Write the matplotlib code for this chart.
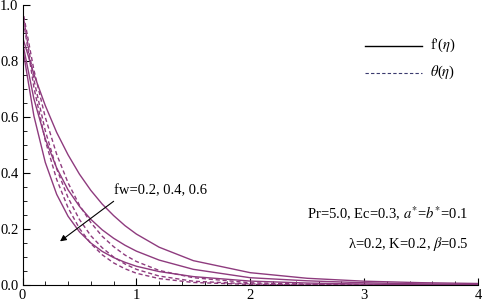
import numpy as np
import matplotlib
matplotlib.use("Agg")
import matplotlib.pyplot as plt
from matplotlib.ticker import MultipleLocator

plt.rcParams['font.family'] = ['Liberation Serif', 'DejaVu Serif']
plt.rcParams['mathtext.fontset'] = 'stix'

# eta positions
eta = [0, 0.1, 0.2, 0.3, 0.4, 0.5, 0.6, 0.7, 0.8, 0.9, 1.0, 1.2, 1.5, 2.0, 2.5, 3.0, 3.5, 4.0]

# f'(eta) for fw = 0.2, 0.4, 0.6
fp_02 = [0.886, 0.753, 0.641, 0.545, 0.465, 0.396, 0.338, 0.289, 0.248, 0.212, 0.182, 0.135, 0.087, 0.044, 0.024, 0.0136, 0.0083, 0.0054]
fp_04 = [0.868, 0.665, 0.522, 0.418, 0.340, 0.281, 0.2345, 0.197, 0.167, 0.142, 0.121, 0.089, 0.056, 0.026, 0.015, 0.008, 0.004, 0.002]
fp_06 = [0.85, 0.604, 0.438, 0.324, 0.2455, 0.190, 0.150, 0.120, 0.098, 0.081, 0.067, 0.048, 0.030, 0.014, 0.007, 0.0033, 0.0016, 0.0008]

# theta(eta) for fw = 0.2, 0.4, 0.6
th_02 = [0.985, 0.768, 0.599, 0.467, 0.365, 0.285, 0.223, 0.174, 0.137, 0.107, 0.084, 0.052, 0.026, 0.008, 0.003, 0.001, 0.0, 0.0]
th_04 = [0.975, 0.733, 0.551, 0.415, 0.312, 0.234, 0.176, 0.133, 0.100, 0.075, 0.056, 0.032, 0.0135, 0.004, 0.001, 0.0, 0.0, 0.0]
th_06 = [0.965, 0.706, 0.516, 0.377, 0.276, 0.202, 0.148, 0.108, 0.079, 0.058, 0.042, 0.023, 0.009, 0.002, 0.0, 0.0, 0.0, 0.0]

purple = '#8e3b7e'

fig = plt.figure(figsize=(4.84, 3.03), dpi=100)
ax = fig.add_axes([0.0465, 0.0594, 0.941, 0.924])

for f in [fp_02, fp_04, fp_06]:
    ax.plot(eta, f, color=purple, lw=1.0)
for t in [th_02, th_04, th_06]:
    ax.plot(eta, t, color=purple, lw=1.0, dashes=(3, 2))

ax.set_xlim(0, 4)
ax.set_ylim(0, 1.0)
ax.spines['top'].set_visible(False)
ax.spines['right'].set_visible(False)
ax.xaxis.set_major_locator(MultipleLocator(1))
ax.xaxis.set_minor_locator(MultipleLocator(0.2))
ax.yaxis.set_major_locator(MultipleLocator(0.2))
ax.yaxis.set_minor_locator(MultipleLocator(0.05))
ax.tick_params(which='both', direction='in', labelsize=10.5, pad=3)
ax.tick_params(which='major', length=5)
ax.tick_params(which='minor', length=3)
ax.set_xticks([0, 1, 2, 3, 4])
ax.set_xticklabels(['0', '1', '2', '3', '4'])

# legend drawn by hand like the original
ax.plot([3.01, 3.51], [0.855, 0.855], color='black', lw=1.0)
ax.text(3.58, 0.855, "f'($\\eta$)", fontsize=10.5, va='center')
ax.plot([3.01, 3.51], [0.758, 0.758], color='#3a3a6e', lw=0.8, dashes=(3, 2))
ax.text(3.58, 0.758, "$\\theta$($\\eta$)", fontsize=10.5, va='center')

ax.annotate('', xy=(0.31, 0.15), xytext=(0.82, 0.305),
            arrowprops=dict(arrowstyle='-|>', color='black', lw=0.8, mutation_scale=9))
ax.text(0.8, 0.337, 'fw=0.2, 0.4, 0.6', fontsize=10.5, va='center')

ax.text(3.92, 0.255, 'Pr=5.0, Ec=0.3, $a^{*}$=$b^{*}$=0.1', fontsize=10.5, ha='right', va='center')
ax.text(3.92, 0.148, '\u03bb=0.2, K=0.2, $\\beta$=0.5', fontsize=10.5, ha='right', va='center')

fig.savefig('out.png', dpi=100)
